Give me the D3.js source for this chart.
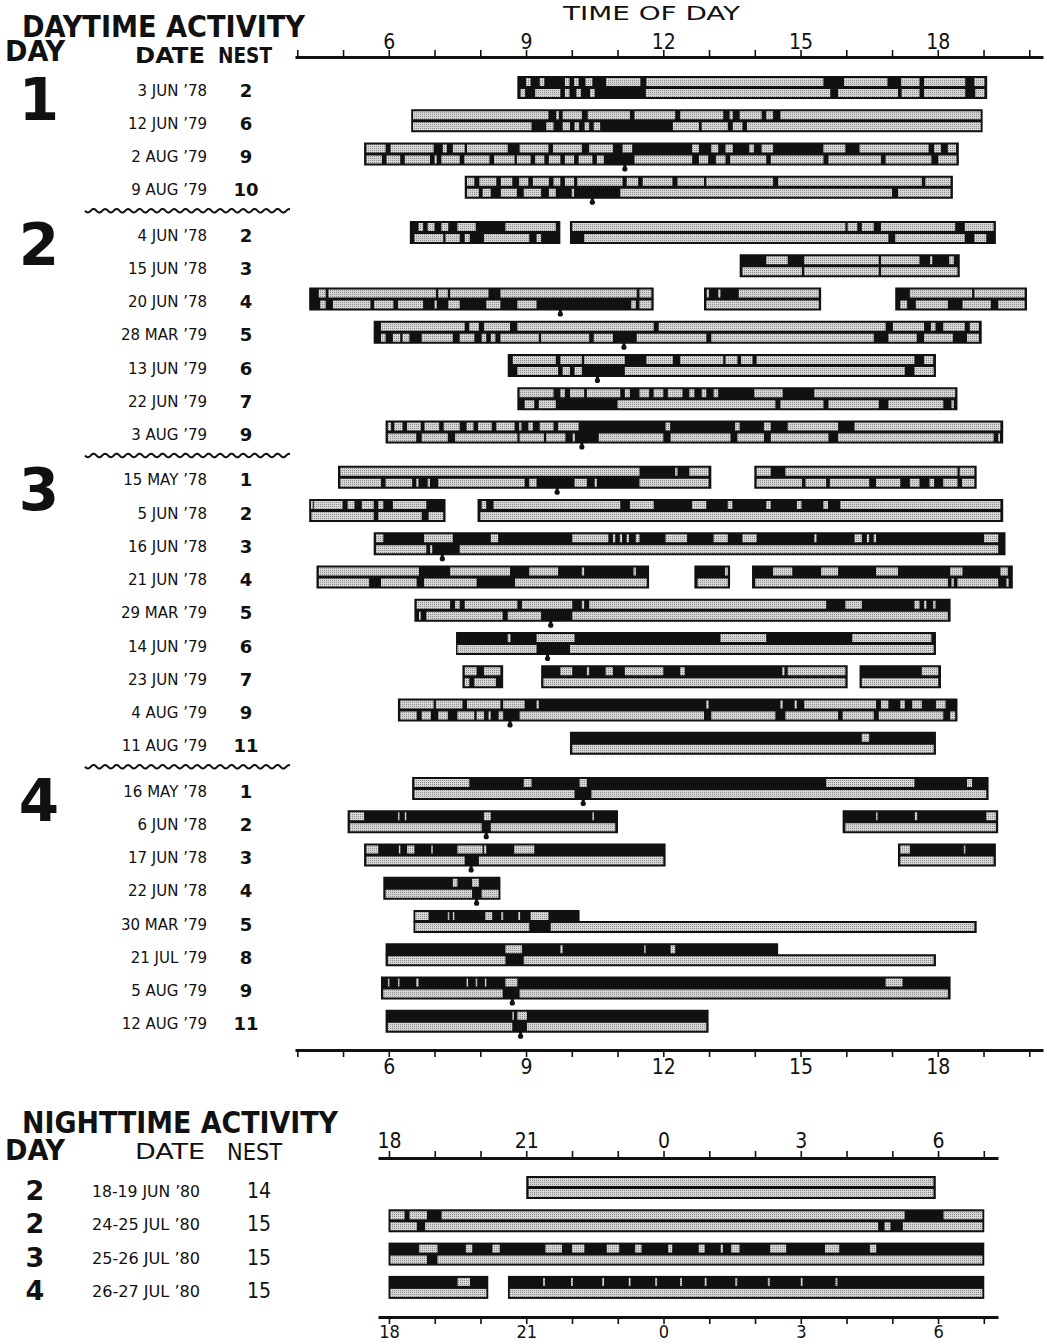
<!DOCTYPE html>
<html>
<head>
<meta charset="utf-8">
<script src="https://cdn.jsdelivr.net/npm/d3@7"></script>
<style>
  body { margin: 0; background: #fff; }
  svg { display: block; }
</style>
</head>
<body>
<svg id="chart" width="1047" height="1344"></svg>
<script>
// tick labels
var dayLabels = [6, 9, 12, 15, 18];
var nightLabels = [18, 21, 24, 27, 30];

// daytime rows
var rowDay = [1,1,1,1, 2,2,2,2,2,2,2, 3,3,3,3,3,3,3,3,3, 4,4,4,4,4,4,4,4];
var rowDate = ["3 JUN ’78", "12 JUN ’79", "2 AUG ’79", "9 AUG ’79",
  "4 JUN ’78", "15 JUN ’78", "20 JUN ’78", "28 MAR ’79", "13 JUN ’79", "22 JUN ’79", "3 AUG ’79",
  "15 MAY ’78", "5 JUN ’78", "16 JUN ’78", "21 JUN ’78", "29 MAR ’79", "14 JUN ’79", "23 JUN ’79", "4 AUG ’79", "11 AUG ’79",
  "16 MAY ’78", "6 JUN ’78", "17 JUN ’78", "22 JUN ’78", "30 MAR ’79", "21 JUL ’79", "5 AUG ’79", "12 AUG ’79"];
var rowNest = [2,6,9,10, 2,3,4,5,6,7,9, 1,2,3,4,5,6,7,9,11, 1,2,3,4,5,8,9,11];

// observation bouts (hours); optional 3rd item = only top ('t') or bottom ('b') stripe
var rowBouts = [
  [[8.81,19.08]],
  [[6.49,18.98]],
  [[5.46,18.46]],
  [[7.66,18.33]],
  [[6.46,9.75],[9.96,19.27]],
  [[13.67,18.48]],
  [[4.26,11.79],[12.89,15.45],[17.07,19.95]],
  [[5.67,18.96]],
  [[8.6,17.96]],
  [[8.81,18.43]],
  [[5.93,19.43]],
  [[4.89,13.05],[13.99,18.85]],
  [[4.26,7.24],[7.94,19.43]],
  [[5.67,19.48]],
  [[4.42,11.69],[12.68,13.46],[13.94,19.64]],
  [[6.56,18.28]],
  [[7.47,17.96]],
  [[7.61,8.5],[9.33,16.03],[16.29,18.07]],
  [[6.2,18.43]],
  [[9.96,17.96]],
  [[6.51,19.11]],
  [[5.1,11.01],[15.92,19.32]],
  [[5.46,12.05],[17.13,19.27]],
  [[5.88,8.44]],
  [[6.54,10.17,"t"],[6.54,18.85,"b"]],
  [[5.93,14.51,"t"],[5.93,17.96,"b"]],
  [[5.83,18.28]],
  [[5.93,12.99]]
];

// inactive (stippled) stretches, top stripe
var rowTop = [
  [[9.0,9.1],[9.3,9.4],[9.85,9.95],[10.05,10.15],[10.3,10.45],[10.75,11.5],[11.63,15.5],[15.95,16.9],[17.2,17.6],[17.7,18.6],[18.8,19.02]],
  [[6.53,9.49],[9.66,9.72],[9.8,10.22],[10.35,11.27],[11.37,12.26],[12.37,13.31],[13.45,13.52],[13.67,14.15],[14.25,14.4],[14.56,18.94]],
  [[5.51,5.93],[6.04,6.98],[7.18,7.27],[7.4,7.66],[7.71,8.6],[8.86,9.49],[9.59,10.22],[10.38,10.9],[11.11,11.32],[12.63,12.78],[13.05,13.2],[13.36,13.52],[13.88,13.98],[14.15,14.4],[15.5,15.98],[16.29,17.8],[17.92,18.07],[18.22,18.4]],
  [[7.71,7.87],[7.98,8.35],[8.45,8.7],[8.85,9.05],[9.15,9.5],[9.6,9.75],[9.85,10.05],[10.12,11.11],[11.2,11.45],[11.55,12.2],[12.31,12.89],[12.94,14.4],[14.51,17.65],[17.73,18.28]],
  [[6.65,6.75],[6.85,7.0],[7.15,7.3],[7.5,7.9],[8.55,9.65],[10.01,15.98],[16.03,16.24],[16.34,16.6],[16.76,18.38],[18.59,19.22]],
  [[14.25,14.72],[15.08,16.71],[16.76,17.6],[17.83,17.88],[18.25,18.35]],
  [[4.47,4.62],[4.68,7.03],[7.08,7.29],[7.34,8.18],[8.44,11.42],[11.48,11.74],[12.95,13.0],[13.2,13.25],[13.65,15.4],[17.39,18.75],[18.8,19.9]],
  [[5.83,7.66],[7.76,7.97],[8.08,8.65],[8.81,11.79],[11.9,16.86],[17.02,17.7],[17.85,17.95],[18.12,18.59],[18.7,18.9]],
  [[8.71,9.65],[9.75,10.22],[10.27,11.16],[11.63,12.21],[12.37,13.31],[13.36,13.62],[13.7,13.95],[14.04,17.49],[17.7,17.9]],
  [[8.86,9.6],[9.75,9.85],[9.96,10.27],[10.33,11.06],[11.16,11.27],[11.48,11.69],[11.79,12.0],[12.1,12.42],[12.57,12.68],[12.84,12.94],[13.1,13.2],[13.99,14.61],[15.3,18.38]],
  [[5.98,6.05],[6.12,6.3],[6.4,6.7],[6.78,7.1],[7.2,7.55],[7.7,7.85],[7.95,8.25],[8.35,8.75],[8.85,8.9],[9.05,9.15],[9.3,9.6],[9.7,10.15],[12.05,12.15],[13.57,13.67],[14.2,14.35],[14.72,15.82],[16.18,19.37]],
  [[4.94,11.48],[12.26,12.31],[12.57,12.99],[14.04,14.35],[14.67,18.43],[18.48,18.8]],
  [[4.3,4.34],[4.36,4.99],[5.1,5.25],[5.41,5.67],[5.77,5.88],[6.09,6.82],[8.03,8.13],[8.29,11.06],[11.27,11.79],[12.63,12.94],[13.41,13.51],[14.25,14.35],[14.92,15.02],[15.5,15.6],[15.87,19.37]],
  [[5.72,5.88],[6.77,7.4],[8.23,8.39],[10.01,10.8],[10.9,10.95],[11.05,11.1],[11.2,11.25],[11.4,11.48],[12.05,12.52],[13.1,13.41],[13.73,14.04],[15.3,15.35],[16.18,16.34],[16.45,16.5],[16.6,16.65],[19.01,19.32]],
  [[4.47,6.66],[7.34,8.65],[9.07,9.7],[10.22,10.27],[11.35,11.4],[13.35,13.41],[14.4,14.82],[15.45,15.82],[16.65,17.13],[18.27,18.54],[19.37,19.53]],
  [[6.61,7.34],[7.45,7.55],[7.66,8.81],[8.91,10.01],[10.22,10.27],[10.38,15.56],[15.98,16.34],[17.49,17.6],[17.7,17.75],[17.9,17.95]],
  [[8.6,8.66],[9.23,10.06],[13.25,14.25],[16.13,17.86]],
  [[7.66,7.92],[8.08,8.44],[9.75,10.01],[10.33,10.38],[10.74,10.9],[11.16,12.0],[12.37,12.47],[14.6,14.65],[14.72,15.98],[17.65,18.01]],
  [[6.25,6.98],[7.03,7.61],[7.71,8.44],[8.5,8.97],[9.23,9.28],[12.94,12.99],[14.56,14.61],[14.87,14.92],[15.08,16.65],[16.76,16.92],[17.18,17.28],[17.44,17.65],[17.96,18.17]],
  [[16.34,16.5]],
  [[6.56,7.76],[8.95,9.12],[10.17,10.33],[15.56,17.49],[18.64,18.75]],
  [[5.15,5.46],[6.2,6.23],[6.35,6.38],[8.08,8.23],[10.45,10.48],[16.65,16.68],[17.5,17.55],[19.06,19.27]],
  [[5.51,5.77],[6.22,6.25],[6.4,6.56],[6.93,6.96],[7.5,8.05],[8.08,8.13],[8.74,9.18],[17.18,17.39],[18.57,18.6]],
  [[7.4,7.5],[7.82,7.97]],
  [[6.58,6.87],[7.29,7.32],[7.4,7.43],[8.11,8.26],[8.46,8.5],[8.83,8.87],[9.1,9.49]],
  [[8.55,8.91],[9.75,9.8],[11.58,11.6],[12.16,12.26]],
  [[5.98,6.0],[6.2,6.23],[6.6,6.65],[7.7,7.73],[7.9,7.93],[8.1,8.13],[8.55,8.81],[16.86,17.23]],
  [[8.7,8.73],[8.81,9.02]]
];

// inactive stretches, bottom stripe
var rowBottom = [
  [[8.88,8.98],[9.2,9.75],[9.85,9.95],[10.1,10.2],[10.4,10.5],[11.62,15.65],[15.82,17.13],[17.21,17.6],[17.7,18.6],[18.82,19.02]],
  [[6.53,9.12],[9.44,9.6],[9.8,9.96],[10.06,10.16],[10.28,10.38],[10.48,10.62],[12.21,12.78],[12.84,13.41],[13.52,13.73],[13.83,18.94]],
  [[5.51,5.85],[5.95,6.25],[6.35,6.9],[7.0,7.05],[7.15,7.55],[7.65,8.2],[8.3,8.75],[8.8,9.1],[9.2,9.4],[9.5,9.75],[9.85,10.05],[10.15,10.45],[10.55,10.7],[11.37,12.63],[12.78,12.98],[13.15,13.36],[13.46,14.25],[14.35,15.5],[15.61,16.76],[16.86,17.86],[18.01,18.41]],
  [[7.71,7.97],[8.05,8.23],[8.45,8.8],[8.95,9.33],[9.5,9.65],[10.0,10.05],[11.06,17.0],[17.13,18.28]],
  [[6.56,7.19],[7.24,7.55],[7.66,7.77],[8.08,9.07],[9.23,9.33],[10.27,16.92],[17.07,18.59],[18.8,19.06]],
  [[13.73,15.03],[15.08,16.71],[16.76,18.43]],
  [[4.5,4.62],[4.78,5.6],[5.68,6.1],[6.2,6.75],[7.0,7.05],[7.3,7.55],[8.13,8.44],[8.81,9.23],[11.3,11.4],[11.48,11.74],[12.94,15.4],[17.18,17.33],[17.52,18.22],[18.54,19.16],[19.32,19.9]],
  [[5.83,5.93],[6.09,6.25],[6.3,6.45],[6.72,7.4],[7.55,7.87],[8.03,8.13],[8.23,8.33],[8.44,9.28],[9.33,10.38],[10.48,10.9],[11.42,12.94],[13.05,16.6],[16.92,17.54],[17.7,18.33],[18.64,18.9]],
  [[8.81,9.7],[9.8,9.96],[10.06,10.22],[11.16,17.28],[17.49,17.91]],
  [[8.97,9.18],[9.28,9.65],[11.0,14.45],[14.56,15.5],[15.61,16.71],[16.92,18.12],[18.3,18.35]],
  [[5.98,6.6],[6.72,7.29],[7.45,8.81],[8.86,9.39],[9.44,9.86],[10.02,10.07],[10.59,12.0],[12.16,13.47],[13.62,14.2],[14.35,15.61],[15.82,19.22],[19.32,19.36]],
  [[4.94,5.83],[5.93,6.51],[6.6,6.65],[6.85,6.9],[7.08,8.97],[9.07,9.23],[10.06,10.33],[10.5,10.55],[11.48,12.99],[14.04,15.03],[15.11,15.56],[15.64,16.5],[16.65,17.18],[17.39,17.6],[17.82,17.92],[18.12,18.43],[18.53,18.8]],
  [[4.31,5.67],[5.77,6.72],[6.87,7.19],[8.0,19.37]],
  [[5.72,6.82],[6.9,6.95],[7.55,19.32]],
  [[4.47,5.57],[5.83,6.61],[6.77,7.92],[8.76,11.64],[12.75,13.41],[14.01,18.22],[18.3,18.35],[18.43,19.32],[19.5,19.55]],
  [[6.66,6.7],[6.82,8.49],[8.6,9.33],[10.01,18.22]],
  [[7.5,9.23],[9.96,17.91]],
  [[7.66,7.76],[7.87,8.34],[9.38,15.98],[16.34,18.01]],
  [[6.25,6.61],[6.72,6.92],[7.08,7.29],[7.5,7.87],[7.92,8.08],[8.18,8.23],[8.4,8.5],[8.86,12.89],[13.05,14.45],[14.67,15.82],[15.92,16.6],[16.71,18.12],[18.27,18.38]],
  [[10.01,17.91]],
  [[6.56,10.06],[10.43,19.06]],
  [[5.15,8.03],[8.23,10.95],[15.98,19.27]],
  [[5.51,7.66],[7.97,12.0],[17.18,19.22]],
  [[5.93,7.82],[8.03,8.4]],
  [[6.58,9.07],[9.54,18.8]],
  [[5.98,8.55],[8.95,17.91]],
  [[5.88,8.49],[8.86,18.22]],
  [[5.98,8.7],[9.02,12.94]]
];

// marker below the bar (hours), null = none
var rowDot = [null, null, 11.16, 10.45, null, null, 9.75, 11.14, 10.56, null, 10.22,
  9.68, null, 7.17, null, 9.54, 9.47, null, 8.65, null,
  10.25, 8.13, 7.8, 7.92, null, null, 8.7, 8.88];

// nighttime rows (hours after 24 continue past midnight)
var nightDay = [2, 2, 3, 4];
var nightDate = ["18-19 JUN ’80", "24-25 JUL ’80", "25-26 JUL ’80", "26-27 JUL ’80"];
var nightNest = [14, 15, 15, 15];
var nightBouts = [
  [[21.0,29.95]],
  [[17.99,31.01]],
  [[17.99,31.01]],
  [[17.99,20.17],[20.6,31.01]]
];
var nightTop = [
  [[21.05,29.9]],
  [[18.03,18.34],[18.45,18.83],[19.15,29.27],[30.12,30.97]],
  [[18.66,19.06],[19.68,19.82],[20.26,20.42],[21.42,21.78],[22.0,22.27],[22.76,23.03],[23.38,23.52],[24.1,24.19],[24.77,24.9],[25.25,25.3],[25.48,25.66],[26.33,26.68],[27.53,27.84],[28.51,28.65]],
  [[19.5,19.77],[21.37,21.41],[21.98,22.02],[22.66,22.7],[23.24,23.28],[23.82,23.86],[24.36,24.4],[24.9,24.94],[25.57,25.61],[26.28,26.32],[27.0,27.04],[27.76,27.8]]
];
var nightBottom = [
  [[21.05,29.9]],
  [[18.03,18.61],[18.79,28.69],[28.83,28.96],[29.23,30.97]],
  [[18.03,18.83],[19.06,30.97]],
  [[18.03,20.13],[20.64,30.97]]
];

var ink = "#111";
var condensed = "'DejaVu Sans Condensed', 'Liberation Sans Narrow', 'DejaVu Sans', sans-serif";
var plain = "'DejaVu Sans', sans-serif";

var svg = d3.select("#chart");

var pat = svg.append("defs").append("pattern")
    .attr("id", "stipple")
    .attr("width", 2).attr("height", 2)
    .attr("patternUnits", "userSpaceOnUse");
pat.append("rect").attr("width", 2).attr("height", 2).attr("fill", "#d6d6d6");
pat.append("rect").attr("width", 1).attr("height", 1).attr("fill", "#8e8e8e");

var xDay = d3.scaleLinear().domain([3.95, 20.3]).range([295, 1043]);
var xNight = d3.scaleLinear().domain([17.76, 31.31]).range([378, 998]);

function rowY(i) {
    return 90 + i * 33.25 + (rowDay[i] - 1) * 12;
}

function drawBars(g, x, yc, bouts, top, bottom, dot) {
    bouts.forEach(function (b) {
        var part = b[2] || "tb";
        var y0 = part == "b" ? yc - 3 : yc - 14;
        var h = part == "tb" ? 23 : 12;
        g.append("rect")
            .attr("x", x(b[0])).attr("y", y0)
            .attr("width", x(b[1]) - x(b[0])).attr("height", h)
            .attr("fill", ink);
    });
    top.forEach(function (s) {
        g.append("rect")
            .attr("x", x(s[0])).attr("y", yc - 12)
            .attr("width", Math.max(1.5, x(s[1]) - x(s[0]))).attr("height", 8)
            .attr("fill", "url(#stipple)");
    });
    bottom.forEach(function (s) {
        g.append("rect")
            .attr("x", x(s[0])).attr("y", yc - 1)
            .attr("width", Math.max(1.5, x(s[1]) - x(s[0]))).attr("height", 8)
            .attr("fill", "url(#stipple)");
    });
    if (dot != null) {
        g.append("rect")
            .attr("x", x(dot) - 1.5).attr("y", yc + 8)
            .attr("width", 3).attr("height", 4)
            .attr("fill", ink);
        g.append("circle")
            .attr("cx", x(dot)).attr("cy", yc + 12.5)
            .attr("r", 2.6)
            .attr("fill", ink);
    }
}

function styleAxis(size) {
    return function (g) {
        g.select(".domain").attr("stroke", ink).attr("stroke-width", 3);
        g.selectAll(".tick line").attr("stroke", ink).attr("stroke-width", 1.6);
        g.selectAll(".tick text")
            .attr("fill", ink)
            .style("font-family", condensed)
            .style("font-size", size + "px");
    };
}

// ---------- daytime ----------
svg.append("text")
    .attr("x", 22).attr("y", 37)
    .attr("textLength", 283).attr("lengthAdjust", "spacingAndGlyphs")
    .style("font-family", condensed).style("font-weight", "bold").style("font-size", "30px")
    .attr("fill", ink)
    .text("DAYTIME ACTIVITY");
svg.append("text")
    .attr("x", 5).attr("y", 61)
    .attr("textLength", 60).attr("lengthAdjust", "spacingAndGlyphs")
    .style("font-family", condensed).style("font-weight", "bold").style("font-size", "29px")
    .attr("fill", ink)
    .text("DAY");
svg.append("text")
    .attr("x", 135).attr("y", 63)
    .attr("textLength", 70).attr("lengthAdjust", "spacingAndGlyphs")
    .style("font-family", condensed).style("font-weight", "bold").style("font-size", "22px")
    .attr("fill", ink)
    .text("DATE");
svg.append("text")
    .attr("x", 218).attr("y", 63)
    .attr("textLength", 54).attr("lengthAdjust", "spacingAndGlyphs")
    .style("font-family", condensed).style("font-weight", "bold").style("font-size", "22px")
    .attr("fill", ink)
    .text("NEST");
svg.append("text")
    .attr("x", 563).attr("y", 20)
    .attr("textLength", 177).attr("lengthAdjust", "spacingAndGlyphs")
    .style("font-family", condensed).style("font-size", "19px")
    .attr("fill", ink)
    .text("TIME OF DAY");

var topAxis = d3.axisTop(xDay)
    .tickValues(d3.range(4, 21))
    .tickSize(7).tickSizeOuter(0).tickPadding(1)
    .tickFormat(function (d) { return dayLabels.includes(d) ? d : ""; });
svg.append("g").attr("transform", "translate(0,57)").call(topAxis).call(styleAxis(21));

var bottomAxis = d3.axisBottom(xDay)
    .tickValues(d3.range(4, 21))
    .tickSize(7).tickSizeOuter(0).tickPadding(2)
    .tickFormat(function (d) { return dayLabels.includes(d) ? d : ""; });
svg.append("g").attr("transform", "translate(0,1050)").call(bottomAxis).call(styleAxis(21));

var dayG = svg.append("g");
rowDate.forEach(function (d, i) {
    var yc = rowY(i);
    dayG.append("text")
        .attr("x", 207).attr("y", yc + 5.5)
        .attr("text-anchor", "end")
        .style("font-family", plain).style("font-size", "15px")
        .attr("fill", ink)
        .text(d);
    dayG.append("text")
        .attr("x", 246).attr("y", yc + 6.5)
        .attr("text-anchor", "middle")
        .style("font-family", plain).style("font-weight", "bold").style("font-size", "18px")
        .attr("fill", ink)
        .text(rowNest[i]);
    drawBars(dayG, xDay, yc, rowBouts[i], rowTop[i], rowBottom[i], rowDot[i]);
});

// big day numbers and wavy separators
[1, 2, 3, 4].forEach(function (day) {
    var first = rowDay.indexOf(day);
    var last = rowDay.lastIndexOf(day);
    dayG.append("text")
        .attr("x", 39).attr("y", rowY(first) + 30)
        .attr("text-anchor", "middle")
        .style("font-family", plain).style("font-weight", "bold").style("font-size", "58px")
        .attr("fill", ink)
        .text(day);
    if (day < 4) {
        var yw = rowY(last) + 21;
        var pts = d3.range(85, 291, 1).map(function (px) {
            return [px, yw + 1.8 * Math.sin((px - 85) / 11.5 * 2 * Math.PI)];
        });
        dayG.append("path")
            .attr("d", d3.line()(pts))
            .attr("fill", "none")
            .attr("stroke", ink)
            .attr("stroke-width", 2);
    }
});

// ---------- nighttime ----------
svg.append("text")
    .attr("x", 22).attr("y", 1133)
    .attr("textLength", 316).attr("lengthAdjust", "spacingAndGlyphs")
    .style("font-family", condensed).style("font-weight", "bold").style("font-size", "30px")
    .attr("fill", ink)
    .text("NIGHTTIME ACTIVITY");
svg.append("text")
    .attr("x", 5).attr("y", 1160)
    .attr("textLength", 60).attr("lengthAdjust", "spacingAndGlyphs")
    .style("font-family", condensed).style("font-weight", "bold").style("font-size", "29px")
    .attr("fill", ink)
    .text("DAY");
svg.append("text")
    .attr("x", 135).attr("y", 1159)
    .attr("textLength", 70).attr("lengthAdjust", "spacingAndGlyphs")
    .style("font-family", condensed).style("font-size", "21px")
    .attr("fill", ink)
    .text("DATE");
svg.append("text")
    .attr("x", 227).attr("y", 1160)
    .attr("textLength", 55).attr("lengthAdjust", "spacingAndGlyphs")
    .style("font-family", condensed).style("font-size", "23px")
    .attr("fill", ink)
    .text("NEST");

var nightTopAxis = d3.axisTop(xNight)
    .tickValues(d3.range(18, 32))
    .tickSize(7).tickSizeOuter(0).tickPadding(3)
    .tickFormat(function (d) { return nightLabels.includes(d) ? d % 24 : ""; });
svg.append("g").attr("transform", "translate(0,1158)").call(nightTopAxis).call(styleAxis(21));

var nightBottomAxis = d3.axisBottom(xNight)
    .tickValues(d3.range(18, 32))
    .tickSize(7).tickSizeOuter(0).tickPadding(1)
    .tickFormat(function (d) { return nightLabels.includes(d) ? d % 24 : ""; });
svg.append("g").attr("transform", "translate(0,1317)").call(nightBottomAxis).call(styleAxis(18));

var nightG = svg.append("g");
nightDate.forEach(function (d, i) {
    var yc = 1190 + i * 33.3;
    nightG.append("text")
        .attr("x", 35).attr("y", yc + 10)
        .attr("text-anchor", "middle")
        .style("font-family", plain).style("font-weight", "bold").style("font-size", "27px")
        .attr("fill", ink)
        .text(nightDay[i]);
    nightG.append("text")
        .attr("x", 92).attr("y", yc + 7)
        .attr("textLength", 108).attr("lengthAdjust", "spacingAndGlyphs")
        .style("font-family", plain).style("font-size", "15px")
        .attr("fill", ink)
        .text(d);
    nightG.append("text")
        .attr("x", 259).attr("y", yc + 8)
        .attr("text-anchor", "middle")
        .style("font-family", condensed).style("font-size", "21px")
        .attr("fill", ink)
        .text(nightNest[i]);
    drawBars(nightG, xNight, yc, nightBouts[i], nightTop[i], nightBottom[i], null);
});
</script>
</body>
</html>
